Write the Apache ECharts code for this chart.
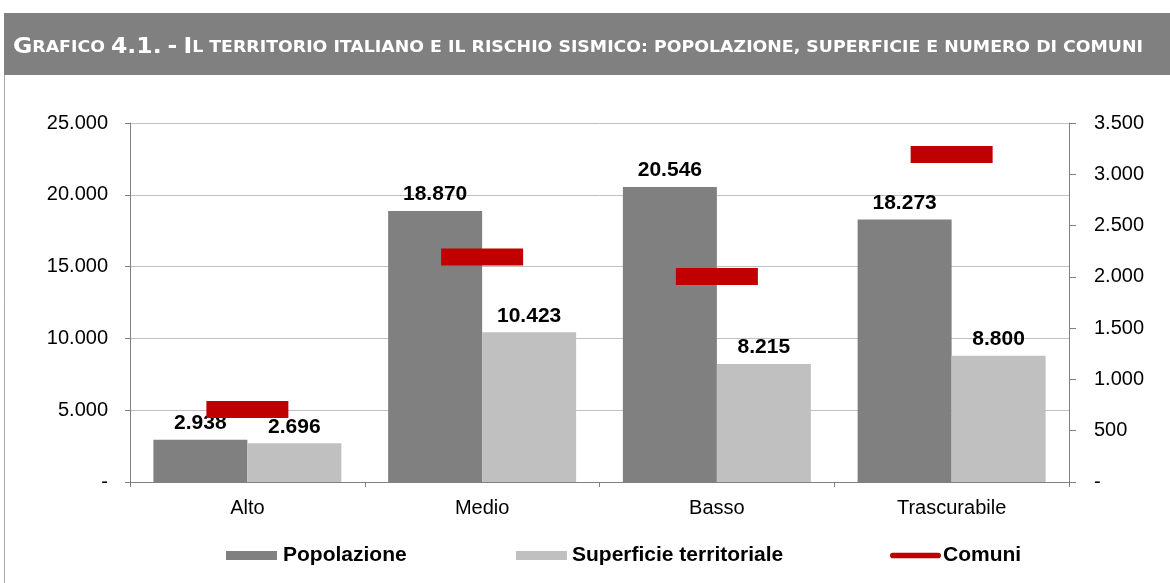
<!DOCTYPE html>
<html>
<head>
<meta charset="utf-8">
<script src="https://cdn.jsdelivr.net/npm/echarts@6/dist/echarts.min.js"></script>
<style>
  html, body { margin: 0; padding: 0; background: #fff; }
  #chart { width: 1170px; height: 583px; }
</style>
</head>
<body>
<div id="chart"></div>
<script>
const categories = ['Alto', 'Medio', 'Basso', 'Trascurabile'];
const popolazione = [2938, 18870, 20546, 18273];
const superficie = [2696, 10423, 8215, 8800];
const comuni = [708, 2193, 2003, 3193];

const titleText = 'Grafico 4.1. - Il territorio italiano e il rischio sismico: popolazione, superficie e numero di comuni';

const chartDom = document.getElementById('chart');
const chart = echarts.init(chartDom);

// small caps: uppercase chars big, lowercase as small uppercase
function smallCaps(str) {
    let out = '';
    let run = '';
    let runStyle = null;
    for (const ch of str) {
        const st = (ch !== ch.toUpperCase() || ch === ' ' || ch === ',' || ch === ':') ? 'b' : 'a';
        if (st !== runStyle && run) {
            out += '{' + runStyle + '|' + run + '}';
            run = '';
        }
        runStyle = st;
        run += ch.toUpperCase();
    }
    if (run) out += '{' + runStyle + '|' + run + '}';
    return out;
}

function fmt(v) {
    if (v === 0) return '-';
    return String(Math.round(v)).replace(/\B(?=(\d{3})+(?!\d))/g, '.');
}

const font = 'Liberation Sans, Arial, sans-serif';
const titleFont = 'DejaVu Sans, Verdana, sans-serif';

const legendText = { fontFamily: font, fontSize: 21, fontWeight: 'bold', color: '#000' };

function legendAt(left, name, icon, textPad) {
    return {
        left: left,
        top: 545,
        padding: 0,
        itemWidth: 51,
        itemHeight: 9,
        textStyle: Object.assign({ padding: [0, 0, 0, textPad] }, legendText),
        data: [{ name: name, icon: icon }]
    };
}

let option = {
    animation: false,
    textStyle: { fontFamily: font },
    graphic: [
        {
            type: 'rect',
            shape: { x: 4.5, y: 13.5, width: 1170, height: 580 },
            style: { fill: 'none', stroke: '#a6a6a6', lineWidth: 1 },
            z: -1
        },
        {
            type: 'rect',
            shape: { x: 4, y: 13, width: 1166, height: 62 },
            style: { fill: '#808080' },
            z: -1
        },
        {
            type: 'text',
            x: 13,
            y: 48,
            scaleX: 1.12,
            style: {
                text: smallCaps(titleText),
                verticalAlign: 'middle',
                rich: {
                    a: { fontFamily: titleFont, fontWeight: 'bold', fontSize: 21, fill: '#fff', color: '#fff' },
                    b: { fontFamily: titleFont, fontWeight: 'bold', fontSize: 15.5, fill: '#fff', color: '#fff' }
                }
            }
        }
    ],
    legend: [
        legendAt(226, 'Popolazione', 'rect', 1),
        legendAt(516, 'Superficie territoriale', 'rect', 0),
        legendAt(890, 'Comuni', 'path://M3,0 L51,0 A3,3 0 0 1 51,6 L3,6 A3,3 0 0 1 3,0 Z', -3)
    ],
    grid: { left: 130, right: 101, top: 123, bottom: 101 },
    xAxis: {
        type: 'category',
        data: categories,
        axisLine: { lineStyle: { color: '#808080', width: 1 } },
        axisTick: { show: true, length: 5, lineStyle: { color: '#808080' } },
        axisLabel: { fontSize: 20, color: '#000', margin: 16 }
    },
    yAxis: [
        {
            type: 'value',
            min: 0,
            max: 25000,
            interval: 5000,
            axisLine: { show: true, lineStyle: { color: '#808080' } },
            axisTick: { show: true, length: 5, lineStyle: { color: '#808080' } },
            splitLine: { lineStyle: { color: '#c0c0c0', width: 1 } },
            axisLabel: { fontSize: 20, color: '#000', margin: 22, formatter: fmt }
        },
        {
            type: 'value',
            min: 0,
            max: 3500,
            interval: 500,
            axisLine: { show: true, lineStyle: { color: '#808080' } },
            axisTick: { show: true, length: 7, lineStyle: { color: '#808080' } },
            splitLine: { show: false },
            axisLabel: { fontSize: 20, color: '#000', margin: 25, formatter: fmt }
        }
    ],
    series: [
        {
            name: 'Popolazione',
            type: 'bar',
            data: popolazione,
            barWidth: 94,
            barGap: '0%',
            itemStyle: { color: '#808080' },
            label: {
                show: true,
                position: 'top',
                distance: 6,
                fontSize: 21,
                fontWeight: 'bold',
                color: '#000',
                formatter: p => fmt(p.value)
            }
        },
        {
            name: 'Superficie territoriale',
            type: 'bar',
            data: superficie,
            barWidth: 94,
            barGap: '0%',
            itemStyle: { color: '#c0c0c0' },
            label: {
                show: true,
                position: 'top',
                distance: 6,
                fontSize: 21,
                fontWeight: 'bold',
                color: '#000',
                formatter: p => fmt(p.value)
            }
        },
        {
            name: 'Comuni',
            type: 'scatter',
            yAxisIndex: 1,
            data: comuni,
            symbol: 'rect',
            symbolSize: [82, 17],
            itemStyle: { color: '#c00000', opacity: 1 },
            z: 5
        }
    ]
};

if (option && typeof option === 'object') {
    chart.setOption(option);
}
</script>
</body>
</html>
